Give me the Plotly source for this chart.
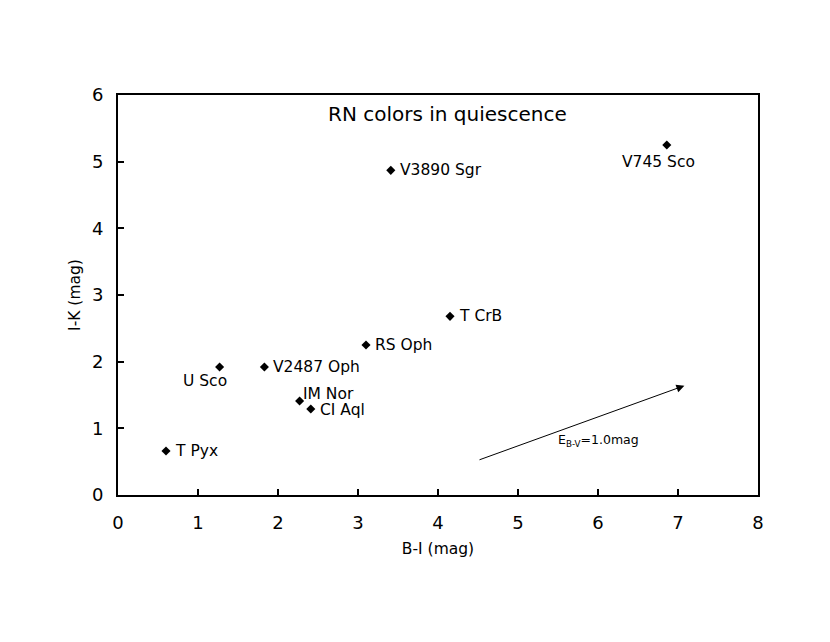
import plotly.graph_objects as go

# Recurrent novae colours in quiescence
names = ['T Pyx', 'U Sco', 'V2487 Oph', 'IM Nor', 'CI Aql', 'RS Oph', 'T CrB', 'V3890 Sgr', 'V745 Sco']
b_i = [0.60, 1.27, 1.83, 2.27, 2.41, 3.10, 4.15, 3.41, 6.86]
i_k = [0.66, 1.92, 1.92, 1.41, 1.29, 2.25, 2.68, 4.87, 5.25]

# label placement relative to marker (anchor, dx, dy in px)
label_offsets = [('left', 7, 0), ('center', -15, -14), ('left', 7, 0), ('left', 1, 7),
                 ('left', 7, -1), ('left', 7, 0), ('left', 7, 0), ('left', 7, 0),
                 ('center', -8, -17)]

# reddening vector
arrow_start = (4.5, 0.52)
arrow_end = (7.08, 1.64)

fig = go.Figure()

fig.add_trace(go.Scatter(
    x=b_i, y=i_k, mode='markers',
    marker=dict(symbol='diamond', size=7, color='black'),
    cliponaxis=False,
))

for name, x, y, (anchor, dx, dy) in zip(names, b_i, i_k, label_offsets):
    fig.add_annotation(x=x, y=y, text=name, showarrow=False, xanchor=anchor, yanchor='middle',
                       xshift=dx, yshift=dy, font=dict(size=15.5, color='black'))

fig.add_annotation(
    x=arrow_end[0], y=arrow_end[1], ax=arrow_start[0], ay=arrow_start[1],
    xref='x', yref='y', axref='x', ayref='y',
    showarrow=True, arrowhead=2, arrowsize=1.6, arrowwidth=1, arrowcolor='black', text='',
)
fig.add_annotation(
    x=6.0, y=0.82, xref='x', yref='y', showarrow=False,
    text='E<sub>B-V</sub>=1.0mag', font=dict(size=12.5, color='black'),
)
fig.add_annotation(
    x=0.5156, y=0.9525, xref='paper', yref='paper', showarrow=False, yanchor='middle',
    text='RN colors in quiescence', font=dict(size=20, color='black'),
)

axis_style = dict(
    showline=True, linecolor='black', linewidth=2, mirror=True,
    ticks='inside', ticklen=6, tickwidth=2, tickcolor='black',
    showgrid=False, zeroline=False, tickfont=dict(size=18, color='black'),
)
fig.update_xaxes(range=[0, 8], dtick=1, ticklabelstandoff=10,
                 title=dict(text='B-I (mag)', font=dict(size=15.5), standoff=12), **axis_style)
fig.update_yaxes(range=[0, 6], dtick=1, ticklabelstandoff=9,
                 title=dict(text='I-K (mag)', font=dict(size=15.5), standoff=8), **axis_style)

fig.update_layout(
    width=830, height=642,
    showlegend=False,
    plot_bgcolor='white', paper_bgcolor='white',
    font=dict(family='DejaVu Sans', color='black'),
    margin=dict(l=110, r=80, t=87, b=155),
)

fig.write_html("out.html")
